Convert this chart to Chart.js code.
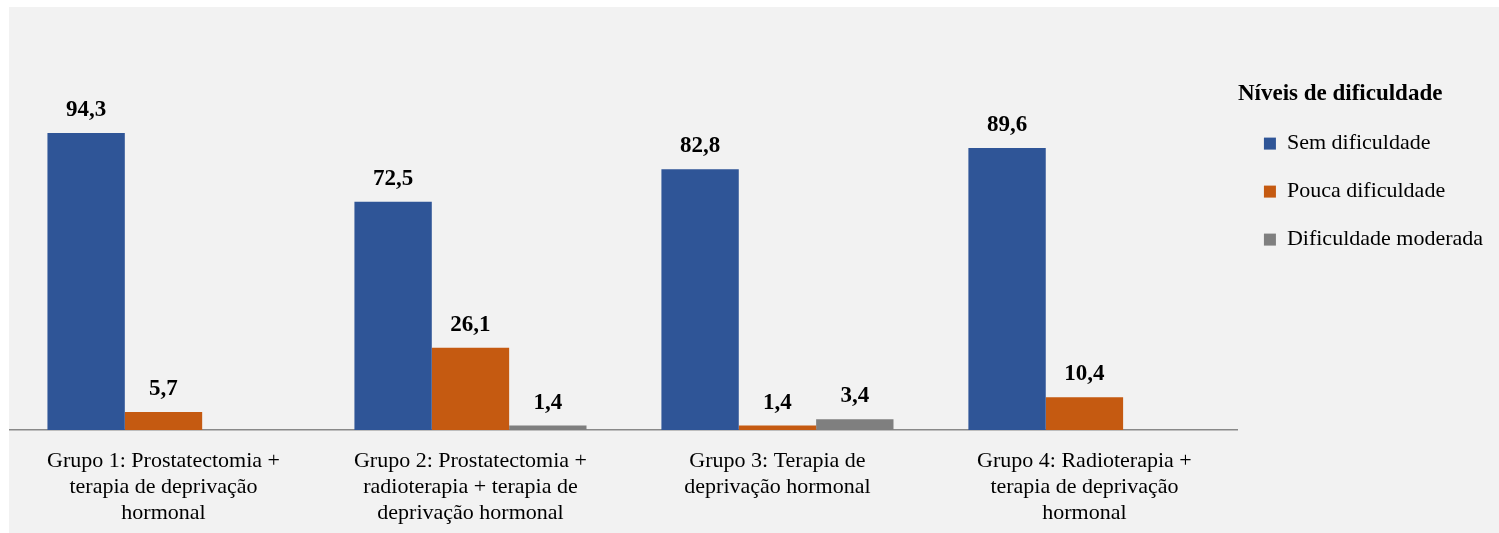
<!DOCTYPE html>
<html lang="pt">
<head>
<meta charset="utf-8">
<title>Níveis de dificuldade</title>
<script src="https://cdn.jsdelivr.net/npm/chart.js@4"></script>
<style>
    html, body { margin: 0; padding: 0; background: #fff; }
    #wrap {
        position: absolute;
        left: 9px;
        top: 7px;
        width: 1490px;
        height: 526px;
        background: #f2f2f2;
    }
</style>
</head>
<body>
<div id="wrap"><canvas id="chart"></canvas></div>
<script>
// Chart data
const groups = [
    ['Grupo 1: Prostatectomia +', 'terapia de deprivação', 'hormonal'],
    ['Grupo 2: Prostatectomia +', 'radioterapia + terapia de', 'deprivação hormonal'],
    ['Grupo 3: Terapia de', 'deprivação hormonal'],
    ['Grupo 4: Radioterapia +', 'terapia de deprivação', 'hormonal']
];
const semDificuldade = [94.3, 72.5, 82.8, 89.6];
const poucaDificuldade = [5.7, 26.1, 1.4, 10.4];
const dificuldadeModerada = [null, 1.4, 3.4, null];
const legendTitle = 'Níveis de dificuldade';

const serif = '"Liberation Serif", "Times New Roman", serif';

// Draws the value above each bar, using the bar positions Chart.js computed
const valueLabels = {
    id: 'valueLabels',
    afterDatasetsDraw(chart) {
        const ctx = chart.ctx;
        ctx.save();
        ctx.font = 'bold 23px ' + serif;
        ctx.fillStyle = '#000';
        ctx.textAlign = 'center';
        ctx.textBaseline = 'alphabetic';
        chart.data.datasets.forEach((ds, i) => {
            chart.getDatasetMeta(i).data.forEach((bar, j) => {
                const v = ds.data[j];
                if (v === null || v === undefined) return;
                ctx.fillText(v.toFixed(1).replace('.', ','), bar.x, bar.y - 17);
            });
        });
        ctx.restore();
    }
};

new Chart(document.getElementById('chart'), {
    type: 'bar',
    data: {
        labels: groups,
        datasets: [
            { label: 'Sem dificuldade', data: semDificuldade, backgroundColor: '#2f5597' },
            { label: 'Pouca dificuldade', data: poucaDificuldade, backgroundColor: '#c55a11' },
            { label: 'Dificuldade moderada', data: dificuldadeModerada, backgroundColor: '#7f7f7f' }
        ]
    },
    options: {
        responsive: true,
        maintainAspectRatio: false,
        animation: false,
        categoryPercentage: 0.756,
        barPercentage: 1,
        layout: { padding: { left: 1, top: 20, right: 6, bottom: 0 } },
        plugins: {
            tooltip: { enabled: false },
            legend: {
                position: 'right',
                align: 'start',
                title: {
                    display: true,
                    text: legendTitle,
                    position: 'start',
                    color: '#000',
                    font: { family: serif, size: 23, weight: 'bold' },
                    padding: { top: 56, bottom: -4 }
                },
                labels: {
                    color: '#000',
                    font: { family: serif, size: 22 },
                    boxWidth: 12,
                    boxHeight: 12,
                    padding: 26
                }
            }
        },
        scales: {
            x: {
                grid: { display: false, drawTicks: false },
                border: { display: true, color: '#898989', width: 1.5 },
                ticks: {
                    color: '#000',
                    padding: 18,
                    maxRotation: 0,
                    autoSkip: false,
                    font: { family: serif, size: 22, lineHeight: 1.18 }
                },
                afterFit(scale) {
                    scale.height = 103;
                }
            },
            y: {
                display: false,
                min: 0,
                max: 128
            }
        }
    },
    plugins: [valueLabels]
});
</script>
</body>
</html>
